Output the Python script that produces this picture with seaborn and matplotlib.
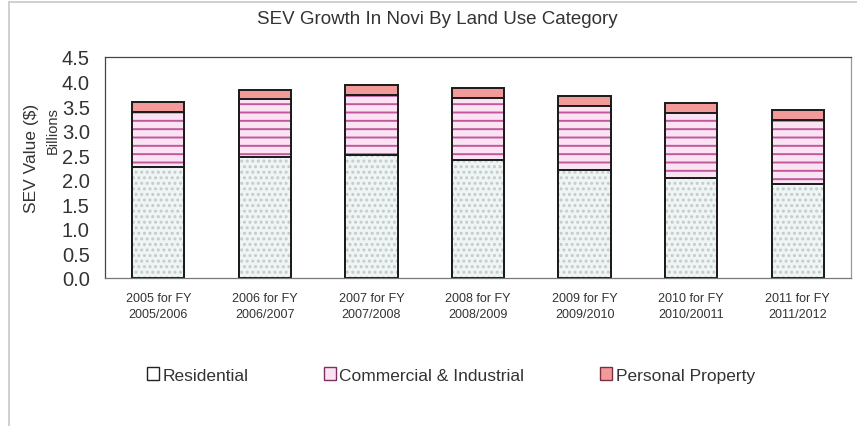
import matplotlib
matplotlib.use("Agg")
import matplotlib.pyplot as plt
from matplotlib.patches import Patch, Rectangle
import pandas as pd
import seaborn as sns

# SEV values in billions of dollars
categories = ["2005 for FY\n2005/2006", "2006 for FY\n2006/2007", "2007 for FY\n2007/2008",
              "2008 for FY\n2008/2009", "2009 for FY\n2009/2010", "2010 for FY\n2010/20011",
              "2011 for FY\n2011/2012"]
residential = [2.27, 2.46, 2.50, 2.40, 2.20, 2.04, 1.91]
commercial = [1.12, 1.18, 1.23, 1.26, 1.31, 1.32, 1.31]
personal = [0.19, 0.19, 0.20, 0.20, 0.20, 0.20, 0.20]
series_names = ["Residential", "Commercial & Industrial", "Personal Property"]
y_ticks = [0.0, 0.5, 1.0, 1.5, 2.0, 2.5, 3.0, 3.5, 4.0, 4.5]

sns.set_theme(style="white")
plt.rcParams["font.family"] = ["Liberation Sans", "DejaVu Sans"]
plt.rcParams["hatch.linewidth"] = 1.4

df = pd.DataFrame({"category": categories, "res": residential,
                   "com": commercial, "per": personal})
df["res_com"] = df["res"] + df["com"]
df["total"] = df["res_com"] + df["per"]

fig = plt.figure(figsize=(8.57, 4.27), dpi=100)
ax = fig.add_axes([105 / 857, 148 / 427, 746 / 857, 221 / 427])

width = 0.49
fills = {"per": "#f29a9a", "com": "#fbe3f3", "res": "#eff4f4"}
hatches = {"per": None, "com": "--", "res": "..."}
hatch_colors = {"per": "#f29a9a", "com": "#c0589c", "res": "#c4cbcb"}
layers = [("total", "per"), ("res_com", "com"), ("res", "res")]

for col, key in layers:
    # fill and hatch
    sns.barplot(data=df, x="category", y=col, ax=ax, color=fills[key],
                width=width, saturation=1, edgecolor=hatch_colors[key],
                linewidth=0, hatch=hatches[key])
    # outline
    sns.barplot(data=df, x="category", y=col, ax=ax, fill=False,
                width=width, edgecolor="#1a1a1a", linewidth=1.4)

ax.set_xlim(-0.5, len(categories) - 0.5)
ax.set_ylim(0, 4.5)
ax.set_yticks(y_ticks)
ax.set_yticklabels([f"{v:.1f}" for v in y_ticks], fontsize=14.5, color="#333333")
ax.tick_params(axis="y", length=0, pad=11)
ax.tick_params(axis="x", length=0, pad=10, labelsize=9, labelcolor="#333333")
for lbl in ax.get_xticklabels():
    lbl.set_linespacing(1.45)
ax.set_xlabel("")
ax.set_ylabel("")
for s in ax.spines.values():
    s.set_color("#444444")
    s.set_linewidth(0.9)
ax.spines["bottom"].set_color("#777777")
ax.spines["right"].set_color("#999999")

fig.text(32 / 857, 1 - 158 / 427, "SEV Value ($)", rotation=90, ha="center",
         va="center", fontsize=12.5, color="#333333")
fig.text(53 / 857, 1 - 131 / 427, "Billions", rotation=90, ha="center",
         va="center", fontsize=10.5, color="#333333")
fig.text(437 / 857, 1 - 20 / 427, "SEV Growth In Novi By Land Use Category",
         ha="center", va="center", fontsize=13.5, color="#333333")

handles = [Patch(facecolor="#ffffff", edgecolor="#222222", linewidth=1.0),
           Patch(facecolor="#fbe3f3", edgecolor="#7a3060", linewidth=1.0),
           Patch(facecolor="#f29a9a", edgecolor="#7a3040", linewidth=1.0)]
fig.legend(handles, series_names, loc="center left",
           bbox_to_anchor=(131 / 857, 1 - 376 / 427), ncol=3, frameon=False,
           fontsize=12.5, handlelength=0.7, handleheight=0.7,
           handletextpad=0.2, columnspacing=4.35, labelcolor="#333333")

# outer chart border
fig.add_artist(Rectangle((9 / 857, -0.05), 1.0, 1.05 - 3 / 427,
                         transform=fig.transFigure, fill=False,
                         edgecolor="#c8c8c8", linewidth=1.2))

fig.savefig("out.png", dpi=100)
